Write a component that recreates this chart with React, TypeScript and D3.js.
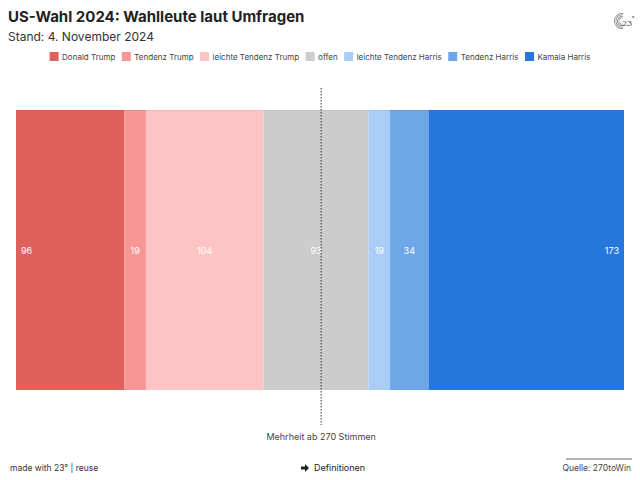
import React from "react";
import * as d3 from "d3";

const categories = ["Donald Trump", "Tendenz Trump", "leichte Tendenz Trump", "offen", "leichte Tendenz Harris", "Tendenz Harris", "Kamala Harris"];
const values = [96, 19, 104, 93, 19, 34, 173];
const colors = ["#e0605b", "#f79795", "#fec4c3", "#cccccc", "#aacdf5", "#6ea6e8", "#2577dc"];
const majority = 270;

const W = 640, H = 480;
const FONT = "Inter, 'Noto Sans', sans-serif";

function textWidth(s: string, size: number): number {
  try {
    const c = document.createElement("canvas").getContext("2d");
    if (c) {
      c.font = `${size}px Inter`;
      return c.measureText(s).width;
    }
  } catch (e) {}
  return s.length * size * 0.52;
}

export default function App() {
  const total = d3.sum(values);
  const x = d3.scaleLinear().domain([0, total]).range([16, 624]);
  const starts = d3.cumsum([0, ...values]);
  const y0 = 110, y1 = 390;
  const yMid = (y0 + y1) / 2;

  // legend layout
  const legendFont = 8;
  const sw = 9, swGap = 3.5, gap = 6.5;
  const items = categories.map((c) => ({ c, w: sw + swGap + textWidth(c, legendFont) }));
  const totalW = d3.sum(items, (d) => d.w) + gap * (items.length - 1);
  let lx = W / 2 - totalW / 2;
  const legendPos = items.map((d) => {
    const p = lx;
    lx += d.w + gap;
    return p;
  });

  return (
    <svg width={W} height={H} style={{ position: "absolute", left: 0, top: 0 }} fontFamily={FONT}>
      <rect width={W} height={H} fill="#fff" />
      <text x={8} y={22} fontSize={15} fontWeight={700} fill="#222">US-Wahl 2024: Wahlleute laut Umfragen</text>
      <text x={8} y={41} fontSize={12} fill="#333">Stand: 4. November 2024</text>

      {/* logo */}
      <g transform="translate(622,19)">
        {[8, 6.5, 5, 3.5].map((r, i) => (
          <path key={i} d={d3.arc()({ innerRadius: r - 0.7, outerRadius: r, startAngle: -Math.PI * 1.05, endAngle: Math.PI * 0.05 }) as string} fill="#777" transform="translate(0,2)" />
        ))}
        <text x={0} y={7} fontSize={8} fontFamily="'DejaVu Serif', serif" fill="#333">23</text>
        <text x={10} y={1} fontSize={5} fill="#333">°</text>
      </g>

      {/* legend */}
      {categories.map((c, i) => (
        <g key={c} transform={`translate(${legendPos[i]},52)`}>
          <rect width={sw} height={9} fill={colors[i]} />
          <text x={sw + swGap} y={8} fontSize={legendFont} fill="#444">{c}</text>
        </g>
      ))}

      {/* bars */}
      {values.map((v, i) => (
        <g key={i}>
          <rect x={x(starts[i])} y={y0} width={x(starts[i] + v) - x(starts[i])} height={y1 - y0} fill={colors[i]} />
          <rect x={x(starts[i])} y={y0} width={x(starts[i] + v) - x(starts[i])} height={1} fill={d3.color(colors[i])!.darker(0.3).toString()} opacity={0.6} />
        </g>
      ))}
      {values.map((v, i) => {
        const a = x(starts[i]), b = x(starts[i] + v);
        let tx = (a + b) / 2, anchor: "start" | "middle" | "end" = "middle";
        if (i === 0) { tx = a + 5; anchor = "start"; }
        if (i === values.length - 1) { tx = b - 5; anchor = "end"; }
        return (
          <text key={i} x={tx} y={yMid + 3.5} fontSize={9} fill="#fff" textAnchor={anchor}>{v}</text>
        );
      })}

      {/* majority line */}
      <line x1={x(majority)} x2={x(majority)} y1={88} y2={425} stroke="#333" strokeWidth={1} strokeDasharray="1.5,1.5" />
      <text x={x(majority)} y={440} fontSize={9} fill="#444" textAnchor="middle">Mehrheit ab 270 Stimmen</text>

      {/* footer */}
      <text x={10} y={471} fontSize={8.5} fill="#333">made with 23° | reuse</text>
      <g transform="translate(301,468)">
        <path d="M0,-1.5 h4 v-2.5 l4,4 l-4,4 v-2.5 h-4 z" fill="#222" />
      </g>
      <text x={314} y={471} fontSize={9} fill="#222">Definitionen</text>
      <line x1={566} x2={632} y1={459} y2={459} stroke="#999" strokeWidth={1.5} />
      <text x={631} y={471} fontSize={8.5} fill="#444" textAnchor="end">Quelle: 270toWin</text>
    </svg>
  );
}
